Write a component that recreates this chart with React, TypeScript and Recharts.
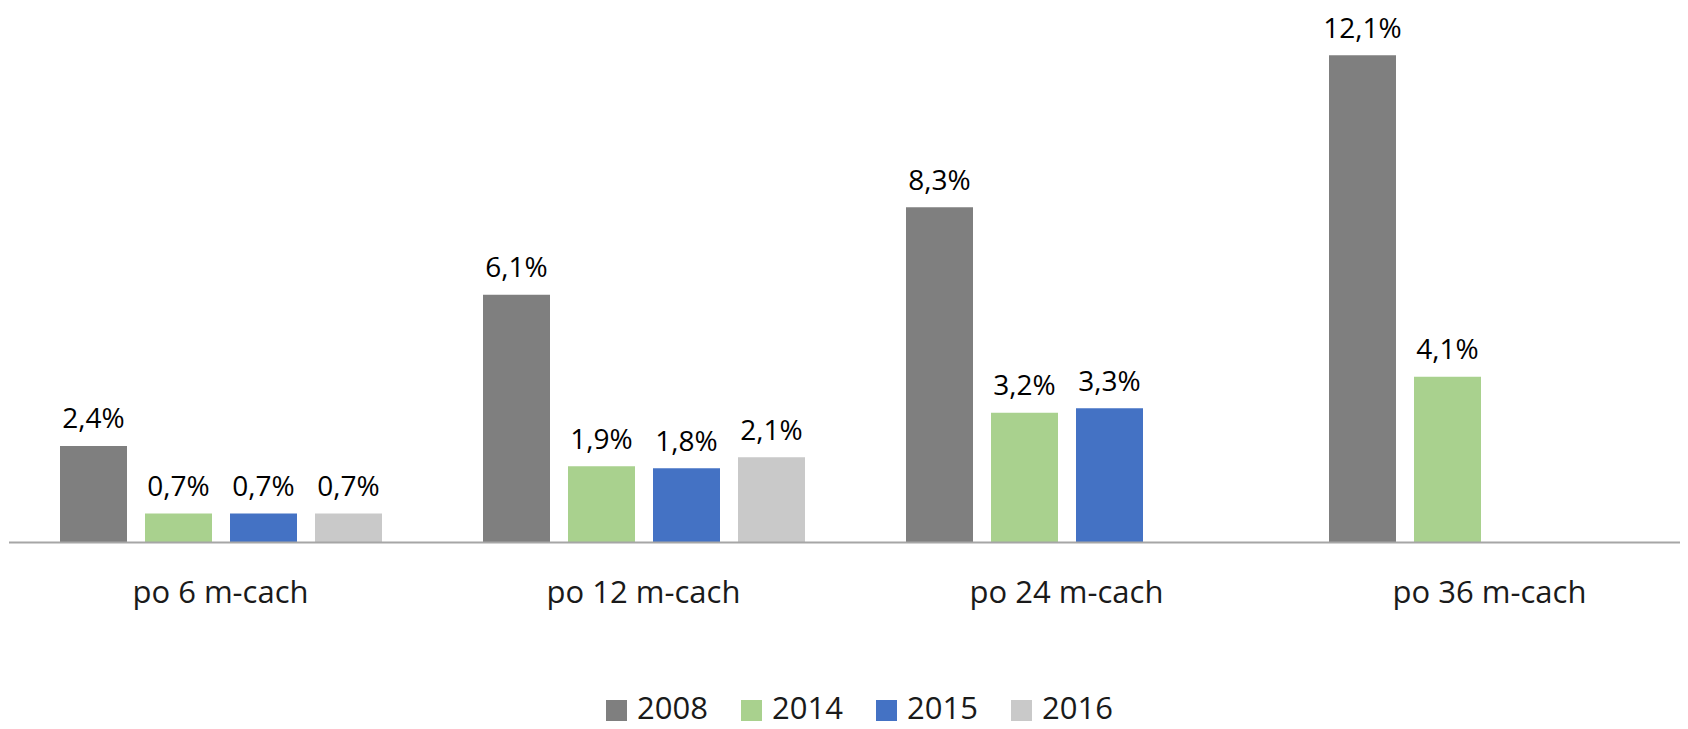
import React from 'react';
import { BarChart, Bar, XAxis, YAxis, Legend, LabelList } from 'recharts';

const categories = ['po 6 m-cach', 'po 12 m-cach', 'po 24 m-cach', 'po 36 m-cach'];
const seriesNames = ['2008', '2014', '2015', '2016'];
const seriesColors = ['#7f7f7f', '#a9d18e', '#4472c4', '#c9c9c9'];
const values2008 = [2.39, 6.13, 8.3, 12.06];
const values2014 = [0.72, 1.89, 3.21, 4.1];
const values2015: (number | null)[] = [0.72, 1.84, 3.32, null];
const values2016: (number | null)[] = [0.72, 2.11, null, null];

const seriesValues = [values2008, values2014, values2015, values2016];

const data = categories.map((c, i) => {
  const row: Record<string, any> = { name: c };
  seriesNames.forEach((s, j) => {
    row[s] = seriesValues[j][i];
  });
  return row;
});

const FONT = '"Open Sans", "Noto Sans", sans-serif';

const fmt = (v: any) => (v === null || v === undefined ? '' : `${Number(v).toFixed(1).replace('.', ',')}%`);

const CategoryTick = (props: any) => {
  const { x, y, payload } = props;
  return (
    <text x={x} y={y + 60.5} textAnchor="middle" fontFamily={FONT} fontSize={31} fill="#1a1a1a">
      {payload.value}
    </text>
  );
};

const renderLegend = (props: any) => {
  const { payload } = props;
  return (
    <div style={{ display: 'flex', height: 32, alignItems: 'center', fontFamily: FONT, fontSize: 31, lineHeight: '32px', color: '#1a1a1a' }}>
      {(payload || []).map((e: any) => (
        <div key={e.value} style={{ display: 'flex', alignItems: 'center', width: 135, height: 32 }}>
          <span style={{ display: 'inline-block', position: 'relative', top: 3, width: 21, height: 21, background: e.color, marginRight: 10 }} />
          <span>{e.value}</span>
        </div>
      ))}
    </div>
  );
};

export default function App() {
  return (
    <div style={{ width: 1680, height: 721, overflow: 'hidden', background: '#fff' }}>
      <BarChart
        width={1693}
        height={721}
        data={data}
        margin={{ top: 9.3, right: 0, left: 1, bottom: 54.5 }}
        barSize={67}
        barGap={18}
      >
        <XAxis
          dataKey="name"
          tickLine={false}
          tickSize={0}
          tickMargin={0}
          axisLine={{ stroke: '#a6a6a6', strokeWidth: 2 }}
          tick={<CategoryTick />}
          height={100}
          interval={0}
        />
        <YAxis hide domain={[0, 13]} />
        <Legend
          verticalAlign="bottom"
          content={renderLegend}
          wrapperStyle={{ left: 598, top: 683, bottom: 'auto', width: 'auto' }}
        />
        {seriesNames.map((s, j) => (
          <Bar key={s} dataKey={s} fill={seriesColors[j]} isAnimationActive={false}>
            <LabelList
              dataKey={s}
              position="top"
              offset={17.5}
              formatter={fmt}
              fontFamily={FONT}
              fontSize={28}
              fill="#000"
            />
          </Bar>
        ))}
      </BarChart>
    </div>
  );
}
